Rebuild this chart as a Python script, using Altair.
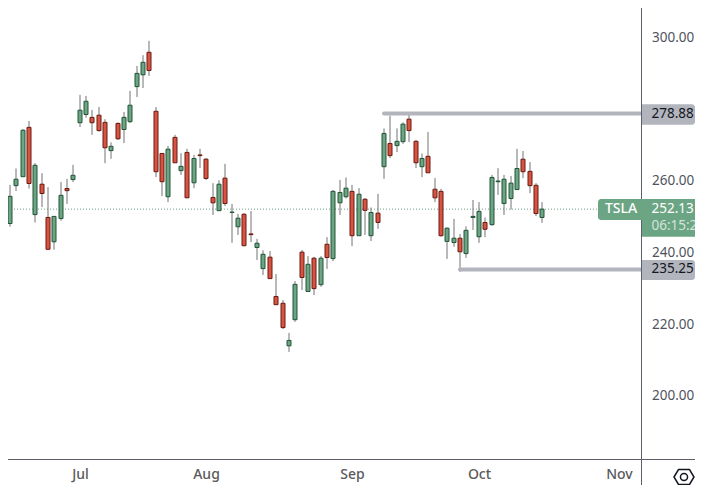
import altair as alt
import pandas as pd

FONT = "Noto Sans"
# Candle values, one entry per trading day
opens = [259.9,248.1,258.7,261.2,275.0,250.6,259.1,249.8,243.0,249.5,257.9,260.4,276.3,278.6,277.8,278.4,276.4,268.5,276.1,274.4,276.6,286.4,289.7,296.0,279.5,267.7,255.6,
         272.2,262.9,268.0,259.5,267.3,266.1,255.4,251.7,260.8,251.2,247.2,250.7,245.2,241.4,235.5,238.7,227.7,225.8,213.9,221.2,240.1,229.1,238.4,231.0,242.3,238.3,253.9,
         255.6,257.1,244.7,254.9,244.7,251.0,264.0,270.5,269.9,271.0,277.3,271.1,264.0,266.9,257.7,257.1,
         243.1,242.8,244.0,239.7,249.8,244.4,248.4,247.8,259.8,253.7,255.1,257.6,266.1,262.7,258.8,249.8]
highs = [261.4,258.9,263.5,274.5,276.8,265.0,262.2,258.3,250.1,259.7,260.6,264.5,284.1,283.8,279.9,280.7,277.3,270.8,276.4,279.3,285.2,292.2,295.2,299.2,280.7,267.7,269.8,
         272.9,267.8,269.0,267.3,269.0,266.4,259.4,260.2,264.8,253.6,250.8,251.0,251.6,243.8,240.6,240.4,234.0,226.7,217.5,232.0,240.7,239.0,238.8,239.0,244.3,257.5,260.3,
         261.0,258.9,258.0,255.2,252.6,256.4,274.7,278.3,274.7,276.4,278.9,271.5,267.7,273.7,260.8,257.8,
         247.0,249.4,245.2,247.3,254.7,254.1,249.8,261.7,263.6,261.7,261.4,269.0,268.4,265.3,259.4,254.1]
lows = [250.5,247.2,257.2,261.2,257.9,248.4,252.7,240.9,240.8,248.9,253.6,259.7,275.1,277.7,272.9,273.8,265.0,266.2,271.5,270.6,276.2,283.5,286.0,289.4,261.1,255.8,254.1,
        265.1,261.7,255.3,258.0,263.6,260.3,250.5,251.7,253.0,242.7,244.9,241.8,242.9,237.9,233.7,232.7,225.4,218.6,212.2,220.6,229.5,229.1,228.1,230.4,235.4,237.6,250.5,
        255.1,241.8,244.7,244.9,243.2,246.6,260.6,266.4,268.1,270.4,270.9,263.6,261.1,262.2,254.1,244.4,
        238.2,241.6,234.6,238.5,246.3,242.7,244.3,247.5,256.1,250.5,252.0,257.6,260.8,256.6,250.2,248.3]
closes = [256.5,255.7,260.5,274.2,259.3,264.4,256.5,240.9,250.1,256.0,257.3,261.6,279.8,282.3,276.3,274.1,269.3,269.7,271.8,277.8,281.2,290.1,293.2,290.9,262.6,259.8,268.9,
          265.1,264.1,255.3,266.3,267.1,260.7,253.9,259.1,253.7,251.3,249.6,241.9,245.0,242.6,239.5,232.7,225.4,219.0,215.4,231.1,233.0,236.7,229.9,238.4,238.6,257.1,256.8,
          258.0,244.7,256.3,251.8,251.2,248.4,273.3,267.1,271.1,275.9,274.1,265.1,266.3,262.3,255.3,244.7,
          246.8,244.0,240.2,246.2,250.1,251.5,246.5,261.0,260.0,260.5,259.4,263.5,262.6,258.7,250.9,252.13]

month_positions = [12, 32, 55, 75, 97]
month_labels = ["Jul", "Aug", "Sep", "Oct", "Nov"]
price_ticks = [200, 220, 240, 260, 300]
levels = [278.88, 235.25]
level_starts = [60, 72]
level_tops = [281.5, 237.9]
level_bottoms = [275.7, 232.3]
last_price = 252.13
ticker = "TSLA"
countdown = "06:15:29"

GREEN, RED = "#6ba583", "#d75442"
GREEN_EDGE, RED_EDGE = "#225437", "#6b1a10"
GRAY_TAG = "#b2b5be"
AXIS = "#5d606b"
INK = "#131722"
W, H = 633, 451
XDOM = [0.71, 100.536]
YDOM = [182.24, 308.39]

df = pd.DataFrame({"i": range(len(opens)), "o": opens, "h": highs, "l": lows, "c": closes})
df["top"] = df[["o", "c"]].max(axis=1)
df["bot"] = df[["o", "c"]].min(axis=1)
df["dir"] = ["up" if c >= o else "down" for o, c in zip(opens, closes)]

xs = alt.Scale(domain=XDOM, round=True, nice=False, zero=False, padding=0)
ys = alt.Scale(domain=YDOM, nice=False, zero=False, padding=0)
x_enc = alt.X("i:Q", scale=xs, title=None, axis=alt.Axis(
    orient="bottom", values=month_positions, grid=False, domain=False, ticks=False,
    labelExpr="{12:'Jul',32:'Aug',55:'Sep',75:'Oct',97:'Nov'}[datum.value]",
    labelFont=FONT, labelFontSize=14, labelFontWeight=500, labelColor="#5a5a5a", labelPadding=8,
    labelFlush=False))
y_enc = alt.Y("h:Q", scale=ys, title=None, axis=alt.Axis(
    orient="right", values=price_ticks, format=".2f", grid=False, domain=False, ticks=False,
    labelFont=FONT, labelFontSize=13.5, labelColor="#50535e", labelPadding=10.5))

wicks = alt.Chart(df).mark_rule(color="#737375", strokeWidth=1).encode(x=x_enc, y=y_enc, y2="l:Q")
bodies = alt.Chart(df).mark_bar(size=4, strokeWidth=1).encode(
    x=alt.X("i:Q", scale=xs), y=alt.Y("top:Q", scale=ys), y2="bot:Q",
    color=alt.Color("dir:N", scale=alt.Scale(domain=["up", "down"], range=[GREEN, RED]), legend=None),
    stroke=alt.Stroke("dir:N", scale=alt.Scale(domain=["up", "down"], range=[GREEN_EDGE, RED_EDGE]), legend=None))

last_line = alt.Chart(pd.DataFrame({"v": [last_price]})).mark_rule(
    color=GREEN, strokeWidth=1, strokeDash=[1, 2]).encode(
    y=alt.Y("v:Q", scale=ys), x=alt.value(0), x2=alt.value(590))

lv = pd.DataFrame({"v": levels, "s": level_starts, "t": level_tops, "b": level_bottoms})
lv["e"] = XDOM[1]
level_lines = alt.Chart(lv).mark_rule(color=GRAY_TAG, strokeWidth=4, strokeCap="round").encode(
    x=alt.X("s:Q", scale=xs), x2="e:Q", y=alt.Y("v:Q", scale=ys))
level_tags = alt.Chart(lv).mark_rect(color=GRAY_TAG, cornerRadiusTopRight=3, cornerRadiusBottomRight=3).encode(
    x=alt.value(634), x2=alt.value(687), y=alt.Y("t:Q", scale=ys), y2="b:Q")
level_text = alt.Chart(lv).mark_text(font=FONT, fontSize=13.5, color=INK, align="left", baseline="middle").encode(
    x=alt.value(643.5), y=alt.Y("v:Q", scale=ys), text=alt.Text("v:Q", format=".2f"))

tag = pd.DataFrame({"v": [last_price], "name": [ticker], "time": [countdown],
                    "a": [254.97], "b": [249.1], "c": [244.4]})
name_tag = alt.Chart(tag).mark_rect(color=GREEN, cornerRadiusTopLeft=3, cornerRadiusBottomLeft=3).encode(
    x=alt.value(590), x2=alt.value(634), y=alt.Y("a:Q", scale=ys), y2="b:Q")
price_tag = alt.Chart(tag).mark_rect(color=GREEN).encode(
    x=alt.value(634), x2=alt.value(687), y=alt.Y("a:Q", scale=ys), y2="c:Q")
name_text = alt.Chart(tag).mark_text(font=FONT, fontSize=14, fontWeight=500, color="white", align="left", baseline="middle").encode(
    x=alt.value(597), y=alt.Y("v:Q", scale=ys), text="name:N")
price_text = alt.Chart(tag).mark_text(font=FONT, fontSize=13.5, color="white", align="left", baseline="middle").encode(
    x=alt.value(643.5), y=alt.Y("v:Q", scale=ys), text=alt.Text("v:Q", format=".2f"))
time_text = alt.Chart(tag).mark_text(font=FONT, fontSize=13.5, color="#d3e4da", align="left", baseline="middle", dy=17).encode(
    x=alt.value(643.5), y=alt.Y("v:Q", scale=ys), text="time:N")

frame_v = alt.Chart(pd.DataFrame({"a": [0]})).mark_rule(color=AXIS, strokeWidth=1).encode(
    x=alt.value(633.5), y=alt.value(0), y2=alt.value(477))
frame_h = alt.Chart(pd.DataFrame({"a": [0]})).mark_rule(color=AXIS, strokeWidth=1).encode(
    y=alt.value(451.5), x=alt.value(0), x2=alt.value(687))

HEX = "M-1,0L-0.55,-0.75L0.55,-0.75L1,0L0.55,0.75L-0.55,0.75Z"
icon_hex = alt.Chart(pd.DataFrame({"a": [0]})).mark_point(shape=HEX, size=400, color=INK, strokeWidth=1.5, filled=False, opacity=1).encode(
    x=alt.value(676), y=alt.value(469))
icon_dot = alt.Chart(pd.DataFrame({"a": [0]})).mark_point(shape="circle", size=50, color=INK, strokeWidth=1.5, filled=False, opacity=1).encode(
    x=alt.value(676), y=alt.value(469))

chart = alt.layer(
    last_line, wicks, bodies, level_lines, frame_v, frame_h,
    level_tags, level_text, name_tag, price_tag, name_text, price_text, time_text,
    icon_hex, icon_dot,
).resolve_scale(color="independent", stroke="independent").properties(
    width=W, height=H, background="white",
    autosize=alt.AutoSizeParams(type="none"),
    padding={"left": 0, "top": 0, "right": 54, "bottom": 26},
).configure_view(stroke=None)

chart.save("out.html", embed_options={"renderer": "svg", "actions": False})
